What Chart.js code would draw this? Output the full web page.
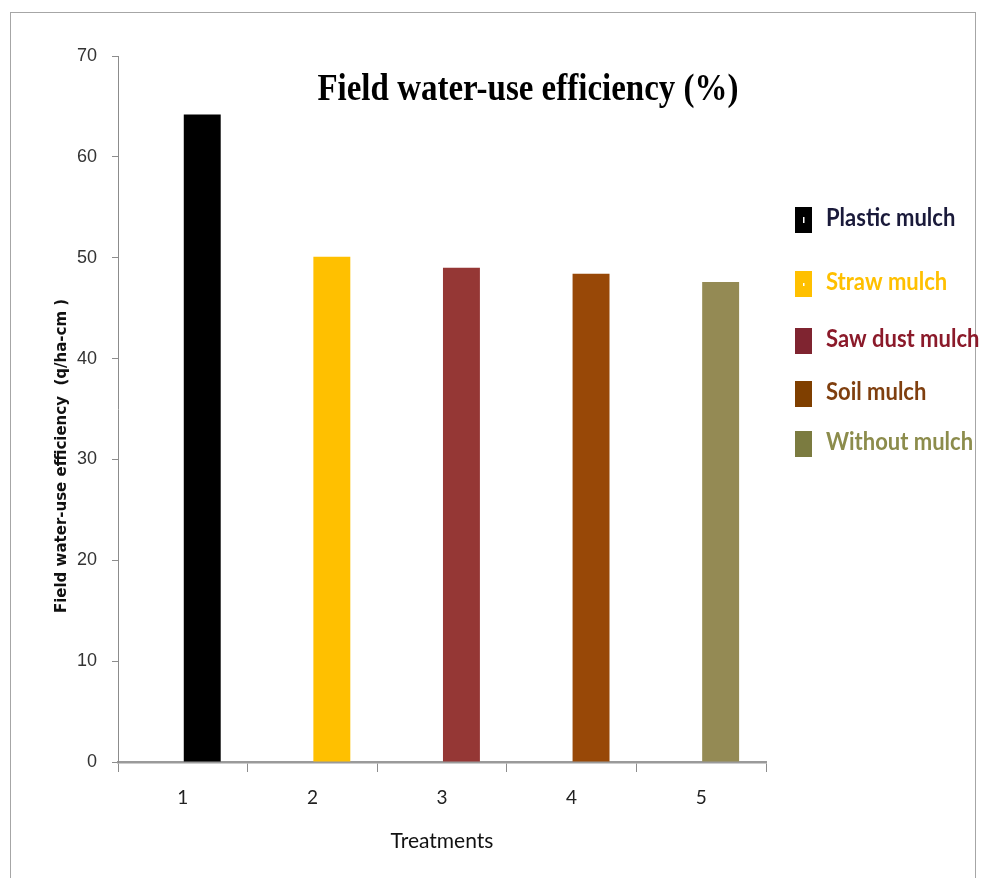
<!DOCTYPE html>
<html>
<head>
<meta charset="utf-8">
<title>Field water-use efficiency</title>
<script src="https://cdn.jsdelivr.net/npm/chart.js@4.4.0/dist/chart.umd.min.js"></script>
<style>
    body { margin: 0; background: #fff; }
    #wrap { position: relative; width: 983px; height: 878px; overflow: hidden; }
    #frame { position: absolute; left: 10px; top: 12px; width: 964px; height: 900px; border: 1px solid #a6a6a6; }
    #myChart { position: absolute; left: 0; top: 0; }
</style>
</head>
<body>
<div id="wrap">
    <div id="frame"></div>
    <canvas id="myChart" width="983" height="878"></canvas>
</div>
<script>
const treatments = ["1", "2", "3", "4", "5"];
const efficiency = [64.2, 50.1, 49.0, 48.4, 47.6];
const mulchNames = ["Plastic mulch", "Straw mulch", "Saw dust mulch", "Soil mulch", "Without mulch"];
const barColors = ["#000000", "#FFC000", "#953735", "#984807", "#948A54"];
const swatchColors = ["#000000", "#FFC000", "#7F2430", "#7F3F00", "#7B7B40"];
const legendTextColors = ["#1A1A3A", "#FFC000", "#8B1A2A", "#7F3F0F", "#8C8C4C"];

const chartTitle = "Field water-use efficiency (%)";
const yTitle = "Field water-use efficiency  (q/ha-cm )";
const xTitle = "Treatments";

// title, rotated y title and the coloured legend on the right
const extraText = {
    id: "extraText",
    afterDraw(chart) {
        const ctx = chart.ctx;
        ctx.save();

        ctx.save();
        ctx.translate(528, 100);
        ctx.scale(1, 1.12);
        ctx.fillStyle = "#000";
        ctx.font = 'bold 33px "Liberation Serif"';
        ctx.textAlign = "center";
        ctx.textBaseline = "alphabetic";
        ctx.fillText(chartTitle, 0, 0);
        ctx.restore();

        ctx.save();
        ctx.translate(62, 456);
        ctx.rotate(-Math.PI / 2);
        ctx.font = 'bold 15px "DejaVu Sans"';
        ctx.fillStyle = "#111";
        ctx.textAlign = "center";
        ctx.textBaseline = "middle";
        ctx.fillText(yTitle, 0, 0);
        ctx.restore();

        const rowY = [220, 284, 341, 394, 444];
        ctx.textAlign = "left";
        ctx.textBaseline = "middle";
        for (let i = 0; i < mulchNames.length; i++) {
            ctx.fillStyle = swatchColors[i];
            ctx.fillRect(795, rowY[i] - 13, 17, 26);
            if (i < 2) {
                // small white notch inside the first two swatches
                ctx.fillStyle = "#fff";
                ctx.fillRect(803, rowY[i] - (i == 0 ? 3 : 1), 1.5, i == 0 ? 6 : 3);
            }
            ctx.save();
            ctx.translate(826, rowY[i] - 2);
            ctx.scale(1, 1.1);
            ctx.font = 'bold 22px "Lato"';
            ctx.fillStyle = legendTextColors[i];
            ctx.fillText(mulchNames[i], 0, 0);
            ctx.restore();
        }
        ctx.restore();
    },
};

const myChart = document.getElementById("myChart");
const axisGray = "#8c8c8c";

const config = {
    type: "bar",
    data: {
        labels: treatments,
        datasets: [
            {
                // empty spacer series, keeps bars right of the category centre
                label: "spacer",
                data: treatments.map(() => null),
            },
            {
                label: chartTitle,
                data: efficiency,
                backgroundColor: barColors,
                borderWidth: 0,
            },
        ],
    },
    options: {
        responsive: false,
        animation: false,
        events: [],
        datasets: {
            bar: { categoryPercentage: 0.6, barPercentage: 0.95 },
        },
        layout: { padding: { left: 0, right: 217, top: 56, bottom: 0 } },
        plugins: {
            legend: { display: false },
            tooltip: { enabled: false },
        },
        scales: {
            x: {
                grid: {
                    offset: true,
                    drawOnChartArea: false,
                    tickLength: 10,
                    color: axisGray,
                    lineWidth: 1,
                },
                border: { color: "#9a9a9a", width: 2.5 },
                ticks: {
                    color: "#222",
                    font: { family: "Lato", size: 19 },
                    padding: 14,
                },
                title: {
                    display: true,
                    text: xTitle,
                    color: "#111",
                    font: { family: "Lato", size: 21 },
                    padding: { top: 0, bottom: 24 },
                },
                afterFit: (scale) => {
                    scale.height = 116;
                },
            },
            y: {
                min: 0,
                max: 70,
                ticks: {
                    stepSize: 10,
                    color: "#333",
                    font: { family: "Liberation Sans", size: 18 },
                    padding: 15,
                },
                grid: {
                    drawOnChartArea: false,
                    tickLength: 6,
                    color: axisGray,
                },
                border: { color: axisGray, width: 1 },
                afterFit: (scale) => {
                    scale.width = 118;
                },
            },
        },
    },
    plugins: [extraText],
};

const chart = new Chart(myChart, config);
</script>
</body>
</html>
